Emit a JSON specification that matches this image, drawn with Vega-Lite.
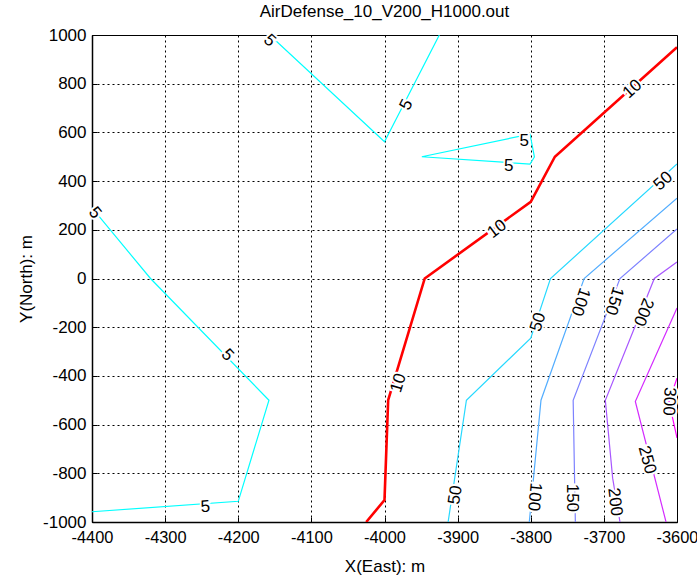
{
  "$schema": "https://vega.github.io/schema/vega-lite/v6.json",
  "width": 585,
  "height": 487,
  "autosize": {"type": "none"},
  "padding": {"left": 92, "top": 35, "right": 20, "bottom": 59},
  "title": {"text": "AirDefense_10_V200_H1000.out", "font": "Liberation Sans", "fontSize": 17, "fontWeight": "normal", "color": "black", "offset": 5},
  "config": {
    "view": {"stroke": "black", "strokeWidth": 1},
    "axis": {
      "labelFont": "Liberation Sans", "labelFontSize": 17, "labelColor": "black",
      "titleFont": "Liberation Sans", "titleFontSize": 17, "titleFontWeight": "normal", "titleColor": "black",
      "domainColor": "black", "domainWidth": 1.5, "tickColor": "black", "tickSize": -5,
      "gridColor": "black", "gridDash": [2, 3], "gridOpacity": 1, "gridWidth": 1,
      "labelExpr": "datum.value + ''"
    }
  },
  "datasets": {
    "lines": [
      {"level": 5, "seg": "a", "ord": 1, "x": -4157, "y": 1000},
      {"level": 5, "seg": "a", "ord": 2, "x": -4000, "y": 562},
      {"level": 5, "seg": "a", "ord": 3, "x": -3925, "y": 1000},
      {"level": 5, "seg": "b", "ord": 1, "x": -3949, "y": 500},
      {"level": 5, "seg": "b", "ord": 2, "x": -3801, "y": 593},
      {"level": 5, "seg": "b", "ord": 3, "x": -3795, "y": 499},
      {"level": 5, "seg": "b", "ord": 4, "x": -3801, "y": 470},
      {"level": 5, "seg": "b", "ord": 5, "x": -3949, "y": 500},
      {"level": 5, "seg": "c", "ord": 1, "x": -4400, "y": 290},
      {"level": 5, "seg": "c", "ord": 2, "x": -4320, "y": 0},
      {"level": 5, "seg": "c", "ord": 3, "x": -4158, "y": -500},
      {"level": 5, "seg": "c", "ord": 4, "x": -4200, "y": -915},
      {"level": 5, "seg": "c", "ord": 5, "x": -4400, "y": -958},
      {"level": 10, "seg": "d", "ord": 1, "x": -4025, "y": -1000},
      {"level": 10, "seg": "d", "ord": 2, "x": -4000, "y": -910},
      {"level": 10, "seg": "d", "ord": 3, "x": -3995, "y": -500},
      {"level": 10, "seg": "d", "ord": 4, "x": -3945, "y": 0},
      {"level": 10, "seg": "d", "ord": 5, "x": -3800, "y": 315},
      {"level": 10, "seg": "d", "ord": 6, "x": -3767, "y": 500},
      {"level": 10, "seg": "d", "ord": 7, "x": -3600, "y": 950},
      {"level": 50, "seg": "e", "ord": 1, "x": -3913, "y": -1000},
      {"level": 50, "seg": "e", "ord": 2, "x": -3888, "y": -500},
      {"level": 50, "seg": "e", "ord": 3, "x": -3800, "y": -245},
      {"level": 50, "seg": "e", "ord": 4, "x": -3773, "y": 0},
      {"level": 50, "seg": "e", "ord": 5, "x": -3600, "y": 470},
      {"level": 100, "seg": "f", "ord": 1, "x": -3802, "y": -1000},
      {"level": 100, "seg": "f", "ord": 2, "x": -3786, "y": -500},
      {"level": 100, "seg": "f", "ord": 3, "x": -3727, "y": 0},
      {"level": 100, "seg": "f", "ord": 4, "x": -3600, "y": 330},
      {"level": 150, "seg": "g", "ord": 1, "x": -3739, "y": -1000},
      {"level": 150, "seg": "g", "ord": 2, "x": -3742, "y": -500},
      {"level": 150, "seg": "g", "ord": 3, "x": -3678, "y": 0},
      {"level": 150, "seg": "g", "ord": 4, "x": -3600, "y": 203},
      {"level": 200, "seg": "h", "ord": 1, "x": -3678, "y": -1000},
      {"level": 200, "seg": "h", "ord": 2, "x": -3688, "y": -820},
      {"level": 200, "seg": "h", "ord": 3, "x": -3698, "y": -500},
      {"level": 200, "seg": "h", "ord": 4, "x": -3631, "y": 0},
      {"level": 200, "seg": "h", "ord": 5, "x": -3600, "y": 68},
      {"level": 250, "seg": "i", "ord": 1, "x": -3615, "y": -1000},
      {"level": 250, "seg": "i", "ord": 2, "x": -3657, "y": -505},
      {"level": 250, "seg": "i", "ord": 3, "x": -3600, "y": -121},
      {"level": 300, "seg": "j", "ord": 1, "x": -3600, "y": -655},
      {"level": 300, "seg": "j", "ord": 2, "x": -3611, "y": -505},
      {"level": 300, "seg": "j", "ord": 3, "x": -3600, "y": -409}
    ],
    "labels": [
      {"text": "5", "x": -4157, "y": 977, "rotation": 43},
      {"text": "5", "x": -3970, "y": 713, "rotation": -63},
      {"text": "5", "x": -3809, "y": 565, "rotation": 0},
      {"text": "5", "x": -3830, "y": 462, "rotation": 0},
      {"text": "5", "x": -4396, "y": 269, "rotation": 50},
      {"text": "5", "x": -4215, "y": -314, "rotation": 47},
      {"text": "5", "x": -4245, "y": -938, "rotation": -4},
      {"text": "10", "x": -3981, "y": -429, "rotation": -73},
      {"text": "10", "x": -3846, "y": 203, "rotation": -37},
      {"text": "10", "x": -3661, "y": 778, "rotation": -42},
      {"text": "50", "x": -3619, "y": 400, "rotation": -42},
      {"text": "50", "x": -3790, "y": -179, "rotation": -72},
      {"text": "50", "x": -3903, "y": -889, "rotation": -82},
      {"text": "100", "x": -3732, "y": -96, "rotation": 109},
      {"text": "100", "x": -3795, "y": -897, "rotation": 95},
      {"text": "150", "x": -3686, "y": -92, "rotation": 107},
      {"text": "150", "x": -3743, "y": -901, "rotation": 90},
      {"text": "200", "x": -3646, "y": -138, "rotation": 112},
      {"text": "200", "x": -3685, "y": -918, "rotation": 83},
      {"text": "250", "x": -3641, "y": -745, "rotation": 75},
      {"text": "300", "x": -3611, "y": -505, "rotation": 93}
    ]
  },
  "encoding": {
    "x": {"field": "x", "type": "quantitative",
      "scale": {"domain": [-4400, -3600], "nice": false, "zero": false},
      "axis": {"values": [-4400, -4300, -4200, -4100, -4000, -3900, -3800, -3700, -3600], "grid": true, "title": "X(East): m", "labelPadding": 12, "titlePadding": 13, "labelFlush": false, "labelFontSize": 16.4}},
    "y": {"field": "y", "type": "quantitative",
      "scale": {"domain": [-1000, 1000], "nice": false, "zero": false},
      "axis": {"values": [-1000, -800, -600, -400, -200, 0, 200, 400, 600, 800, 1000], "grid": true, "title": "Y(North): m", "labelPadding": 11, "titlePadding": 7, "labelFlush": false}}
  },
  "layer": [
    {
      "data": {"name": "lines"},
      "transform": [{"filter": "datum.level != 10"}],
      "mark": {"type": "line", "strokeWidth": 1.2, "clip": true},
      "encoding": {
        "color": {"field": "level", "type": "nominal",
          "scale": {"domain": [5, 50, 100, 150, 200, 250, 300], "range": ["#00FFFF", "#26D9FF", "#52ADFF", "#7D82FF", "#A857FF", "#D42BFF", "#FF00FF"]},
          "legend": null},
        "detail": {"field": "seg"},
        "order": {"field": "ord", "type": "quantitative"}
      }
    },
    {
      "data": {"name": "lines"},
      "transform": [{"filter": "datum.level == 10"}],
      "mark": {"type": "line", "strokeWidth": 2.6, "color": "#FF0000", "clip": true},
      "encoding": {
        "detail": {"field": "seg"},
        "order": {"field": "ord", "type": "quantitative"}
      }
    },
    {
      "data": {"name": "labels"},
      "mark": {"type": "text", "font": "Liberation Sans", "fontSize": 17, "align": "center", "baseline": "middle", "color": "white", "stroke": "white", "strokeWidth": 4},
      "encoding": {
        "text": {"field": "text"},
        "angle": {"field": "rotation", "type": "quantitative", "scale": null}
      }
    },
    {
      "data": {"name": "labels"},
      "mark": {"type": "text", "font": "Liberation Sans", "fontSize": 17, "align": "center", "baseline": "middle", "color": "black"},
      "encoding": {
        "text": {"field": "text"},
        "angle": {"field": "rotation", "type": "quantitative", "scale": null}
      }
    }
  ]
}
